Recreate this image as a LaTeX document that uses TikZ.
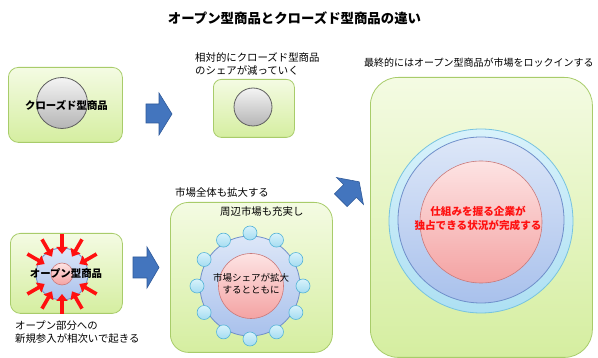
\documentclass[tikz,border=0pt]{standalone}
\usepackage{fontspec}
\setmainfont{Noto Sans CJK JP}
\usetikzlibrary{arrows.meta}
\definecolor{paneltop}{HTML}{F4FBE3}
\definecolor{panelbot}{HTML}{D5EEA0}
\definecolor{panelborder}{HTML}{A8CC6A}
\definecolor{graytop}{HTML}{F4F4F4}
\definecolor{graybot}{HTML}{B5B5B5}
\definecolor{graybord}{HTML}{5F5F5F}
\definecolor{bluetop}{HTML}{DDE7F8}
\definecolor{bluebot}{HTML}{A9C1EC}
\definecolor{bluebord}{HTML}{6F8FCA}
\definecolor{pinktop}{HTML}{FDE3E3}
\definecolor{pinkbot}{HTML}{F4A3A3}
\definecolor{pinkbord}{HTML}{C9797A}
\definecolor{cyantop}{HTML}{D8F2FB}
\definecolor{cyanbot}{HTML}{A4DCF1}
\definecolor{cyanbord}{HTML}{55B4D8}
\definecolor{arrowblue}{HTML}{4375BE}
\definecolor{arrowbord}{HTML}{2F5A9A}
\definecolor{arrowred}{HTML}{FF1010}
\begin{document}
\begin{tikzpicture}[x=1pt,y=-1pt,
  panel/.style={draw=panelborder, line width=0.8pt, top color=paneltop, bottom color=panelbot, inner sep=0, anchor=north west},
  graycirc/.style={circle, draw=graybord, line width=0.8pt, top color=graytop, bottom color=graybot, inner sep=0},
  bluecirc/.style={circle, draw=bluebord, line width=0.8pt, top color=bluetop, bottom color=bluebot, inner sep=0},
  pinkcirc/.style={circle, draw=pinkbord, line width=0.6pt, top color=pinktop, bottom color=pinkbot, inner sep=0},
  cyancirc/.style={circle, draw=cyanbord, line width=0.6pt, top color=cyantop, bottom color=cyanbot, inner sep=0},
  bluearrow/.style={fill=arrowblue, draw=arrowbord, line width=0.6pt, line join=miter},
  redarrow/.style={draw=arrowred, line width=3.6pt, -{Triangle[length=7pt,width=11pt]}},
  lbl/.style={font=\fontsize{10.4}{12.5}\selectfont, inner sep=0, align=left, anchor=west},
  blbl/.style={font=\bfseries\fontsize{10.4}{13}\selectfont, inner sep=0, align=center},
]
\useasboundingbox (0,0) rectangle (598,358);
\fill[white] (0,0) rectangle (598,358);

% title
\node[font=\bfseries\fontsize{13.4}{16}\selectfont, inner sep=0] (title) at (294.5,18) {オープン型商品とクローズド型商品の違い};

% panel 1: closed product
\node[panel, rounded corners=10pt, minimum width=114pt, minimum height=75pt] (p1) at (8,67) {};
\node[graycirc, minimum size=51pt] (c1) at (62,103) {};
\node[blbl] (t1) at (66.5,105) {クローズド型商品};

% panel 2: shrinking closed product
\node[lbl] (t2) at (195,64) {相対的にクローズド型商品\\のシェアが減っていく};
\node[panel, rounded corners=8pt, minimum width=81pt, minimum height=58pt] (p2) at (213,79) {};
\node[graycirc, minimum size=38pt] (c2) at (253,107) {};

% panel 3: open product
\node[panel, rounded corners=10pt, minimum width=112pt, minimum height=80pt] (p3) at (10,233) {};
\node[bluecirc, minimum size=52pt] (c3) at (62,274) {};
\node[pinkcirc, minimum size=22pt] (c3in) at (62,274) {};
\foreach \a in {30,60,90,120,150,210,240,270,300,330}
  \draw[redarrow] ([shift={(\a:40)}]c3.center) -- ([shift={(\a:20)}]c3.center);
\node[blbl] (t3) at (66,273) {オープン型商品};
\node[lbl, font=\fontsize{10.4}{13}\selectfont] (t3b) at (15,332.5) {オープン部分への\\新規参入が相次いで起きる};

% panel 4: expanding market
\node[lbl] (t4a) at (175,193) {市場全体も拡大する};
\node[panel, rounded corners=18pt, minimum width=162pt, minimum height=150pt] (p4) at (170,202) {};
\node[lbl] (t4b) at (220,212) {周辺市場も充実し};
\node[bluecirc, minimum size=100pt] (c4) at (250,286) {};
\foreach \a in {0,30,...,330}
  \node[cyancirc, minimum size=14pt] (s\a) at ([shift={(\a:53)}]c4.center) {};
\node[pinkcirc, minimum size=65pt] (c4in) at (251,286) {};
\node[font=\fontsize{9.5}{12}\selectfont, inner sep=0, align=center] (t4c) at (251,284) {市場シェアが拡大\\するとともに};

% panel 5: lock-in
\node[lbl, font=\fontsize{10}{12}\selectfont] (t5a) at (364,63) {最終的にはオープン型商品が市場をロックインする};
\node[panel, rounded corners=28pt, minimum width=222pt, minimum height=280pt] (p5) at (370,77) {};
\node[circle, draw=cyanbord!80, line width=0.8pt, top color=cyantop, bottom color=cyanbot!90, inner sep=0, minimum size=184pt] (c5) at (481,221) {};
\node[bluecirc, minimum size=166pt] (c5b) at (481,220) {};
\node[pinkcirc, minimum size=122pt] (c5in) at (481,222) {};
\node[font=\bfseries\fontsize{10.6}{14}\selectfont, text=arrowred, inner sep=0, align=center] (t5b) at (478,218) {仕組みを握る企業が\\独占できる状況が完成する};

% blue arrows
\draw[bluearrow] (146,104) -- (159,104) -- (159,93) -- (172,114) -- (159,135) -- (159,123) -- (146,123) -- cycle;
\draw[bluearrow] (133,257) -- (147,257) -- (147,247) -- (159,267.5) -- (147,288) -- (147,278) -- (133,278) -- cycle;
\begin{scope}[shift={(350,191)}, rotate=45]
\draw[bluearrow] (-13,-9) -- (0,-9) -- (0,-19) -- (13,0) -- (0,19) -- (0,9) -- (-13,9) -- cycle;
\end{scope}
\end{tikzpicture}
\end{document}
